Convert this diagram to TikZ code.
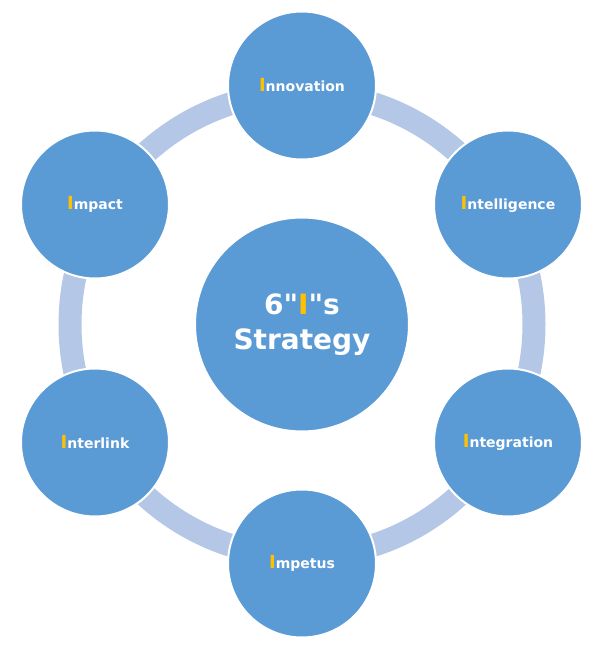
\documentclass[tikz,border=0pt]{standalone}
\usepackage{fontspec}
\setmainfont{DejaVu Sans}
\newfontfamily\discfont{DejaVu Sans}[Ligatures=TeXOff]
\usetikzlibrary{positioning}
\definecolor{discblue}{HTML}{5B9BD5}
\definecolor{ringblue}{HTML}{B4C7E7}
\definecolor{ichar}{HTML}{FFC000}
\newcommand{\capI}{{\color{ichar}\fontsize{18}{18}\selectfont I}}

\begin{document}
\begin{tikzpicture}[x=1pt,y=1pt,on grid,
  disc/.style={circle,fill=discblue,draw=white,line width=2pt,inner sep=0pt,
    minimum size=148pt,text=white,
    font=\discfont\bfseries\fontsize{14}{16}\selectfont},
  hub/.style={disc,minimum size=214pt,align=center,
    font=\discfont\bfseries\fontsize{28}{35}\selectfont},
  ring/.style={draw=ringblue,line width=23pt}]
		\useasboundingbox (0,0) rectangle (606,649);
		\coordinate (mid) at (302,324.5);
		\draw[ring] (mid) circle (232);
		\node[hub] (strat) at (mid) {6"{\color{ichar}I}"s\\Strategy};
		\node[disc] (inno) [above=239pt of strat] {\capI nnovation};
		\node[disc] (intel) [above right=120pt and 206pt of strat] {\capI ntelligence};
		\node[disc] (integ) [below right=118pt and 206pt of strat] {\capI ntegration};
		\node[disc] (impe) [below=239pt of strat] {\capI mpetus};
		\node[disc] (inter) [below left=118pt and 207pt of strat] {\capI nterlink};
		\node[disc] (impa) [above left=120pt and 207pt of strat] {\capI mpact};
\end{tikzpicture}
\end{document}
